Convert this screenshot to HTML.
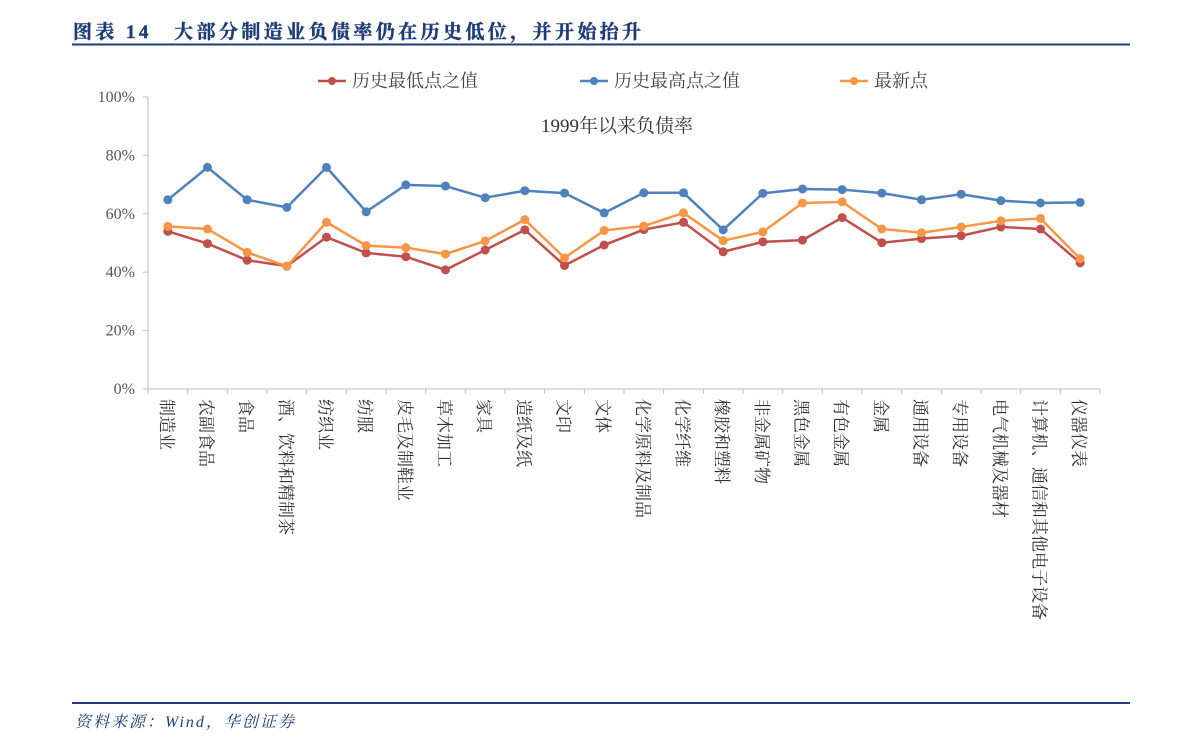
<!DOCTYPE html>
<html><head><meta charset="utf-8">
<style>
body{margin:0;background:#fff;}
#wrap{position:relative;width:1191px;height:753px;overflow:hidden;font-family:"Liberation Serif","Noto Serif CJK SC",serif;}
</style></head>
<body>
<div id="wrap">
<svg id="svg" width="1191" height="753" xmlns="http://www.w3.org/2000/svg">
<text x="73" y="38" font-size="19" font-weight="bold" letter-spacing="3.4" fill="#1f3c78" stroke="#1f3c78" stroke-width="0.4" font-family="Liberation Serif, Noto Serif CJK SC, serif">图表 14　大部分制造业负债率仍在历史低位，并开始抬升</text>
<line x1="72" y1="44.5" x2="1130" y2="44.5" stroke="#1f3c78" stroke-width="2"/>
<line x1="72" y1="703" x2="1130" y2="703" stroke="#1f3c78" stroke-width="2"/>
<text x="75" y="727" font-size="16" font-style="italic" letter-spacing="2" fill="#1f3c78" font-family="Liberation Serif, Noto Serif CJK SC, serif">资料来源：Wind，华创证券</text>
<text x="617" y="132" font-size="19" text-anchor="middle" fill="#333" font-family="Liberation Serif, Noto Serif CJK SC, serif">1999年以来负债率</text>
<g id="legend"></g>
<g id="axes"></g>
<g id="series"></g>
</svg>
</div>
<script>
const categories=["制造业","农副食品","食品","酒、饮料和精制茶","纺织业","纺服","皮毛及制鞋业","草木加工","家具","造纸及纸","文印","文体","化学原料及制品","化学纤维","橡胶和塑料","非金属矿物","黑色金属","有色金属","金属","通用设备","专用设备","电气机械及器材","计算机、通信和其他电子设备","仪器仪表"];
const lowValues=[54.0,49.8,44.1,42.1,52.0,46.6,45.3,40.8,47.6,54.5,42.3,49.3,54.6,57.1,47.0,50.4,51.0,58.7,50.1,51.5,52.5,55.5,54.8,43.2];
const highValues=[64.8,75.9,64.8,62.2,75.9,60.7,69.9,69.5,65.5,67.9,67.1,60.3,67.2,67.2,54.5,67.0,68.5,68.3,67.1,64.8,66.7,64.5,63.7,63.9];
const latestValues=[55.7,54.8,46.8,42.0,57.1,49.1,48.4,46.2,50.7,58.0,44.9,54.3,55.8,60.3,50.8,53.8,63.7,64.1,54.8,53.5,55.5,57.6,58.4,44.6];
const yTicks=[0,20,40,60,80,100];
const seriesNames=["历史最低点之值","历史最高点之值","最新点"];
const colors=["#c0504d","#4f81bd","#f79646"];

const NS="http://www.w3.org/2000/svg";
const X0=148,X1=1100,Y0=389,Y1=97;
const step=(X1-X0)/categories.length;
const xS=i=>X0+step*(i+0.5);
const yS=v=>Y0-(v/100)*(Y0-Y1);
function mk(tag,attrs,parent){const e=document.createElementNS(NS,tag);for(const k in attrs)e.setAttribute(k,attrs[k]);parent.appendChild(e);return e;}
const axes=document.getElementById('axes'),ser=document.getElementById('series'),leg=document.getElementById('legend');
const ff="Liberation Serif, Noto Serif CJK SC, serif";
let ax=mk('line',{x1:X0,y1:Y1,x2:X0,y2:Y0,stroke:'#bfbfbf'},axes);


let bx=mk('line',{x1:X0,y1:Y0,x2:X1,y2:Y0,stroke:'#bfbfbf'},axes);


yTicks.forEach(t=>{
  const y=yS(t);
  const tk=mk('line',{x1:X0-5,y1:y,x2:X0,y2:y,stroke:'#bfbfbf'},axes);
  
  
  const tx=mk('text',{x:X0-13,y:y+5,'font-size':16,'text-anchor':'end',fill:'#555','font-family':ff},axes);
  tx.textContent=t+'%';
  
  
});
for(let i=0;i<=categories.length;i++){
  const x=X0+step*i;
  const tk=mk('line',{x1:x,y1:Y0,x2:x,y2:Y0+5,stroke:'#bfbfbf'},axes);
  
  
}
categories.forEach((c,i)=>{
  const x=xS(i)-7,y=399;
  const tx=mk('text',{x:x,y:y,'font-size':17,fill:'#333','font-family':ff,transform:'rotate(90 '+x+' '+y+')'},axes);
  tx.textContent=c;
  
  
});
[lowValues,highValues,latestValues].forEach((vals,s)=>{
  const g=mk('g',{},ser);
  
  
  const pl=mk('polyline',{points:vals.map((v,i)=>xS(i)+','+yS(v)).join(' '),fill:'none',stroke:colors[s],'stroke-width':2.5},g);
  
  
  vals.forEach((v,i)=>{
    const c=mk('circle',{cx:xS(i),cy:yS(v),r:4.5,fill:colors[s]},g);
    
    
  });
});
const legX=[318,580,840];
seriesNames.forEach((n,s)=>{
  const g=mk('g',{},leg);
  
  
  mk('line',{x1:legX[s],y1:81,x2:legX[s]+28,y2:81,stroke:colors[s],'stroke-width':2.5},g);
  mk('circle',{cx:legX[s]+14,cy:81,r:4,fill:colors[s]},g);
  const t=mk('text',{x:legX[s]+34,y:87,'font-size':18,fill:'#444','font-family':ff},g);
  t.textContent=n;
});
</script>
</body></html>
